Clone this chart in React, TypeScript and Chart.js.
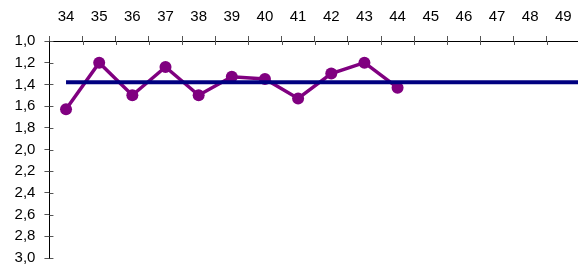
import React, { useEffect, useRef } from "react";
import { Chart, registerables } from "chart.js";

Chart.register(...registerables);

const categories = ["34", "35", "36", "37", "38", "39", "40", "41", "42", "43", "44", "45", "46", "47", "48", "49"];
const seriesValues = [1.63, 1.2, 1.5, 1.24, 1.5, 1.33, 1.35, 1.53, 1.3, 1.2, 1.43];
const targetValue = 1.38;
const targetStart = 34;
const targetEnd = 49.5;
const xMin = 33.5;
const xMax = 49.5;
const yMin = 1.0;
const yMax = 3.0;
const yStep = 0.2;

const innerTicks = {
  id: "innerTicks",
  afterDraw(chart: any) {
    const ctx = chart.ctx;
    const x = chart.scales.x;
    const y = chart.scales.y;
    ctx.save();
    ctx.strokeStyle = "#555";
    ctx.lineWidth = 1;
    ctx.beginPath();
    const n = x.ticks.length;
    for (let i = 1; i < n; i++) {
      const px = Math.round((x.getPixelForTick(i) + x.getPixelForTick(i - 1)) / 2) + 0.5;
      ctx.moveTo(px, x.bottom);
      ctx.lineTo(px, x.bottom + 4);
    }
    for (let i = 0; i < y.ticks.length; i++) {
      const py = Math.round(y.getPixelForTick(i)) + 0.5;
      ctx.moveTo(y.right, py);
      ctx.lineTo(y.right + 4, py);
    }
    ctx.stroke();
    ctx.restore();
  },
};

export default function App() {
  const ref = useRef<HTMLCanvasElement>(null);
  useEffect(() => {
    document.body.style.margin = "0";
    const chart = new Chart(ref.current!, {
      type: "line",
      data: {
        labels: categories,
        datasets: [
          {
            data: [
              { x: targetStart, y: targetValue },
              { x: targetEnd, y: targetValue },
            ],
            xAxisID: "x2",
            borderColor: "#000080",
            backgroundColor: "#000080",
            borderWidth: 4,
            pointRadius: 0,
            order: 0,
          } as any,
          {
            data: seriesValues,
            xAxisID: "x",
            borderColor: "#800080",
            backgroundColor: "#800080",
            borderWidth: 3.5,
            pointRadius: 6,
            pointBorderWidth: 0,
            order: 1,
          },
        ],
      },
      options: {
        responsive: false,
        animation: false,
        layout: { autoPadding: false, padding: { left: 5.6, top: -2.6, right: 0, bottom: 11 } },
        plugins: { legend: { display: false }, tooltip: { enabled: false } },
        scales: {
          x: {
            type: "category",
            position: "top",
            offset: true,
            grid: { offset: true, drawOnChartArea: false, tickLength: 5, color: "#555" },
            border: { color: "#000", width: 1 },
            ticks: { color: "#000", font: { family: "Liberation Sans", size: 15 }, padding: 10.3, maxRotation: 0, autoSkip: false },
          },
          x2: {
            type: "linear",
            display: false,
            min: xMin,
            max: xMax,
          },
          y: {
            type: "linear",
            reverse: true,
            min: yMin,
            max: yMax,
            grid: { drawOnChartArea: false, tickLength: 5, color: "#555" },
            border: { color: "#000", width: 1 },
            ticks: {
              stepSize: yStep,
              color: "#000",
              padding: 9,
              font: { family: "Liberation Sans", size: 15, lineHeight: 0.25 },
              callback: (v: any) => Number(v).toFixed(1).replace(".", ","),
            },
          },
        },
      },
      plugins: [innerTicks],
    });
    return () => chart.destroy();
  }, []);
  return (
    <div style={{ position: "fixed", left: 0, top: 0, width: 578, height: 269, overflow: "hidden" }}>
      <canvas ref={ref} width={582} height={269} />
    </div>
  );
}
